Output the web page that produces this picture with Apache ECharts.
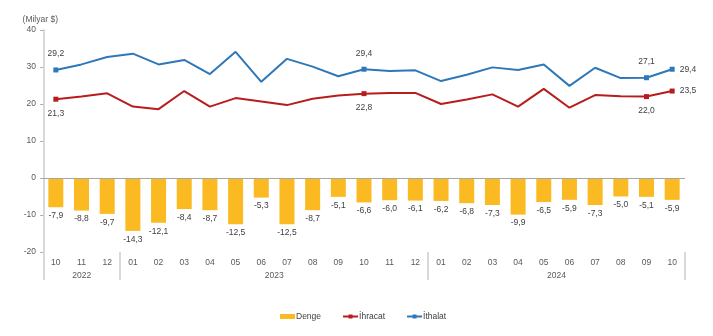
<!DOCTYPE html>
<html><head><meta charset="utf-8">
<script src="https://cdn.jsdelivr.net/npm/echarts@6/dist/echarts.min.js"></script>
<style>html,body{margin:0;padding:0;background:#fff}#c{width:713px;height:336px}</style>
</head><body><div id="c"></div>
<script>
const months = ['10','11','12','01','02','03','04','05','06','07','08','09','10','11','12','01','02','03','04','05','06','07','08','09','10'];
const yearLabels = ['2022','2023','2024'];
const yearCenters = [1.5, 9, 20];
const yearBounds = [0, 3, 15, 25];
const denge = [-7.9,-8.8,-9.7,-14.3,-12.1,-8.4,-8.7,-12.5,-5.3,-12.5,-8.7,-5.1,-6.6,-6.0,-6.1,-6.2,-6.8,-7.3,-9.9,-6.5,-5.9,-7.3,-5.0,-5.1,-5.9];
const ihracat = [21.3,22.0,22.9,19.3,18.6,23.5,19.3,21.6,20.7,19.7,21.4,22.3,22.8,23.0,23.0,20.0,21.2,22.6,19.3,24.1,19.0,22.4,22.1,22.0,23.5];
const ithalat = [29.2,30.7,32.7,33.6,30.7,31.9,28.1,34.1,26.0,32.2,30.1,27.5,29.4,28.9,29.1,26.2,27.9,29.9,29.2,30.7,24.9,29.8,27.0,27.1,29.4];
const labelIdx = [0,12,23,24];
const yTicks = {min:-20, max:40, interval:10};

const fmt = v => v.toFixed(1).replace('.', ',');
const font = 'Liberation Sans, Arial, sans-serif';
const fs = 8.5;
const txt = '#404040';
const axTxt = '#595959';

function lineData(arr, pos) {
  return arr.map((v,i) => {
    if (!labelIdx.includes(i)) return {value:v, symbol:'none'};
    const last = i === arr.length - 1;
    return {value:v, symbol:'rect', symbolSize:5,
      label:{show:true, position: last ? 'right' : pos, distance: last ? 5 : (pos==='top'?9:7),
        formatter: p => fmt(p.value), color:txt, fontSize:fs, fontFamily:font}};
  });
}

const chart = echarts.init(document.getElementById('c'));
chart.setOption({
  animation:false,
  textStyle:{fontFamily:font},
  grid:{left:43, right:28, top:30, bottom:84},
  legend:{
    bottom:10, left:275, itemWidth:15, itemHeight:5, itemGap:21,
    textStyle:{color:txt, fontSize:fs, fontFamily:font, padding:[0,0,0,-4]},
    data:[{name:'Denge', icon:'rect'},{name:'İhracat'},{name:'İthalat'}]
  },
  xAxis:[{
    type:'category', data:months, position:'bottom',
    axisLine:{show:false}, axisTick:{show:false},
    axisLabel:{interval:0, margin:6, color:axTxt, fontSize:fs, fontFamily:font}
  },{
    type:'value', min:-0.01, max:25.01, position:'bottom',
    axisLine:{show:false}, splitLine:{show:false},
    axisTick:{show:true, length:28, customValues:yearBounds, lineStyle:{color:'#d9d9d9', width:2}},
    axisLabel:{margin:19, color:axTxt, fontSize:fs, fontFamily:font, customValues:yearCenters,
      formatter: v => { const k = yearCenters.findIndex(c => Math.abs(c - v) < 1e-6); return k >= 0 ? yearLabels[k] : ''; }}
  }],
  yAxis:{
    type:'value', min:yTicks.min, max:yTicks.max, interval:yTicks.interval,
    name:'(Milyar $)', nameLocation:'end', nameGap:6,
    nameTextStyle:{color:axTxt, fontSize:fs, fontFamily:font, align:'center', padding:[0,6,0,0]},
    axisLine:{show:true, lineStyle:{color:'#d9d9d9', width:2}},
    axisTick:{show:true, length:3, lineStyle:{color:'#a6a6a6'}},
    axisLabel:{margin:7, color:axTxt, fontSize:fs, fontFamily:font},
    splitLine:{show:false}
  },
  series:[{
    name:'Denge', type:'bar', data:denge, barWidth:15, itemStyle:{color:'#FBBA22'},
    label:{show:true, position:'bottom', distance:4, formatter:p=>fmt(p.value), color:txt, fontSize:fs, fontFamily:font},
    markLine:{silent:true, symbol:'none', label:{show:false}, data:[{yAxis:0}], lineStyle:{color:'#a6a6a6', type:'solid', width:1}},
    z:1
  },{
    name:'İhracat', type:'line', data:lineData(ihracat,'bottom'), symbol:'rect', symbolSize:5, showAllSymbol:true,
    itemStyle:{color:'#B81D1D'}, lineStyle:{color:'#B81D1D', width:2}, z:3
  },{
    name:'İthalat', type:'line', data:lineData(ithalat,'top'), symbol:'rect', symbolSize:5, showAllSymbol:true,
    itemStyle:{color:'#2E78BA'}, lineStyle:{color:'#2E78BA', width:2}, z:3
  }]
});
</script></body></html>
